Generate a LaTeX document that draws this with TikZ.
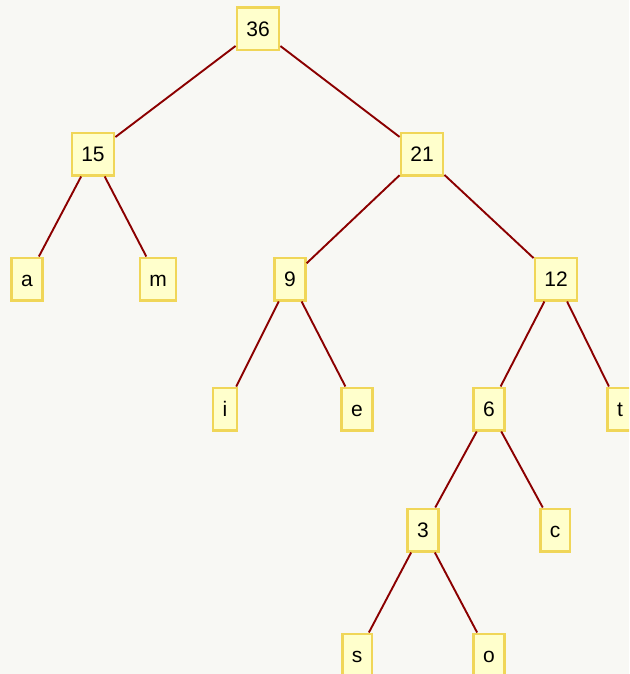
\documentclass[tikz,border=0pt]{standalone}
\usepackage{fontspec}
\setmainfont{Liberation Sans}
\usetikzlibrary{positioning}
\definecolor{paper}{RGB}{248,248,244}
\definecolor{boxfill}{RGB}{255,255,204}
\definecolor{boxline}{RGB}{240,214,88}
\definecolor{edgered}{RGB}{139,0,0}

\begin{document}
\begin{tikzpicture}[x=1pt, y=-1pt,
  hnode/.style={draw=boxline, fill=boxfill, line width=2.5pt, inner xsep=9.5pt,
    inner ysep=0pt, minimum height=42.5pt, text height=15pt, text depth=0pt,
    font=\fontsize{21}{25}\selectfont},
  hedge/.style={draw=edgered, line width=1.9pt}]
% paper and frame
\fill[paper] (0,0) rectangle (629,674);
\useasboundingbox (0,0) rectangle (629,674);
\clip (0,0) rectangle (629,674);

% Root and inner nodes
\node[hnode] (n36) at (258,29) {36};
\node[hnode] (n15) at (93,154) {15};
\node[hnode] (n21) at (422,154) {21};
\node[hnode] (n9)  at (290,279) {9};
\node[hnode] (n12) at (556,279) {12};
\node[hnode] (n6)  at (489,409) {6};
\node[hnode] (n3)  at (423,530) {3};

% Leaves
\node[hnode] (la) at (27,279) {a};
\node[hnode] (lm) at (158,279) {m};
\node[hnode] (li) at (225,409) {i};
\node[hnode] (le) at (357,409) {e};
\node[hnode] (lt) at (620,409) {t};
\node[hnode] (lc) at (555,530) {c};
\node[hnode] (ls) at (357,655) {s};
\node[hnode] (lo) at (489,655) {o};

% Edges
\draw[hedge] (n36) -- (n15);
\draw[hedge] (n36) -- (n21);
\draw[hedge] (n15) -- (la);
\draw[hedge] (n15) -- (lm);
\draw[hedge] (n21) -- (n9);
\draw[hedge] (n21) -- (n12);
\draw[hedge] (n9) -- (li);
\draw[hedge] (n9) -- (le);
\draw[hedge] (n12) -- (n6);
\draw[hedge] (n12) -- (lt);
\draw[hedge] (n6) -- (n3);
\draw[hedge] (n6) -- (lc);
\draw[hedge] (n3) -- (ls);
\draw[hedge] (n3) -- (lo);
\end{tikzpicture}
\end{document}
